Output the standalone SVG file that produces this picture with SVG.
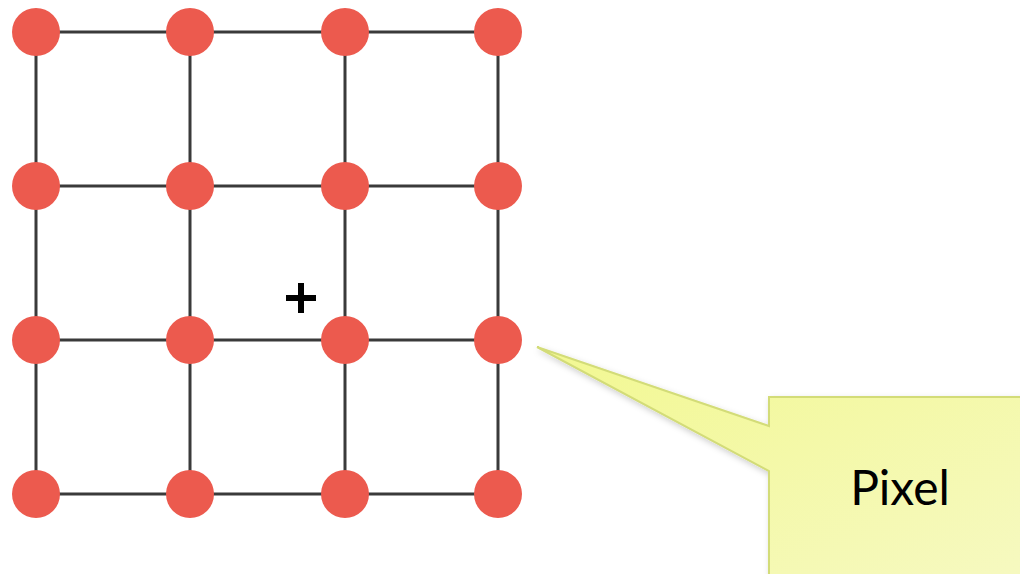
<svg xmlns="http://www.w3.org/2000/svg" width="1020" height="574" viewBox="0 0 1020 574">
<style>
.ln{stroke:#3a3a3a;stroke-width:3;fill:none}
.dot{fill:#EC5A4E}
.lbl{font-family:"Lato","Noto Sans",sans-serif;font-size:48px;fill:#000}
</style>
<defs>
<linearGradient id="yg" x1="0" y1="0" x2="1" y2="1">
<stop offset="0" stop-color="#F2F891"/>
<stop offset="1" stop-color="#F6F9C0"/>
</linearGradient>
<filter id="sh" x="-10%" y="-10%" width="130%" height="130%">
<feDropShadow dx="2" dy="3" stdDeviation="3" flood-color="#000" flood-opacity="0.2"/>
</filter>
</defs>
<rect width="1020" height="574" fill="#fff"/>
<g id="connectors">
<path class="ln" d="M36 32H498M36 186H498M36 340H498M36 494H498M36 32V494M190 32V494M345 32V494M498 32V494"/>
</g>
<g id="nodes">
<g id="n00"><circle class="dot" cx="36" cy="32" r="24"/></g>
<g id="n01"><circle class="dot" cx="190" cy="32" r="24"/></g>
<g id="n02"><circle class="dot" cx="345" cy="32" r="24"/></g>
<g id="n03"><circle class="dot" cx="498" cy="32" r="24"/></g>
<g id="n10"><circle class="dot" cx="36" cy="186" r="24"/></g>
<g id="n11"><circle class="dot" cx="190" cy="186" r="24"/></g>
<g id="n12"><circle class="dot" cx="345" cy="186" r="24"/></g>
<g id="n13"><circle class="dot" cx="498" cy="186" r="24"/></g>
<g id="n20"><circle class="dot" cx="36" cy="340" r="24"/></g>
<g id="n21"><circle class="dot" cx="190" cy="340" r="24"/></g>
<g id="n22"><circle class="dot" cx="345" cy="340" r="24"/></g>
<g id="n23"><circle class="dot" cx="498" cy="340" r="24"/></g>
<g id="n30"><circle class="dot" cx="36" cy="494" r="24"/></g>
<g id="n31"><circle class="dot" cx="190" cy="494" r="24"/></g>
<g id="n32"><circle class="dot" cx="345" cy="494" r="24"/></g>
<g id="n33"><circle class="dot" cx="498" cy="494" r="24"/></g>
</g>
<g id="plus">
<path d="M286 298H316M301 283V313" stroke="#000" stroke-width="6" fill="none"/>
</g>
<g id="callout">
<path d="M537 347L769 426V397H1022V576H769V471Z" fill="url(#yg)" stroke="#D3DC78" stroke-width="2" filter="url(#sh)"/>
<text class="lbl" x="900" y="505" text-anchor="middle">Pixel</text>
</g>
</svg>
